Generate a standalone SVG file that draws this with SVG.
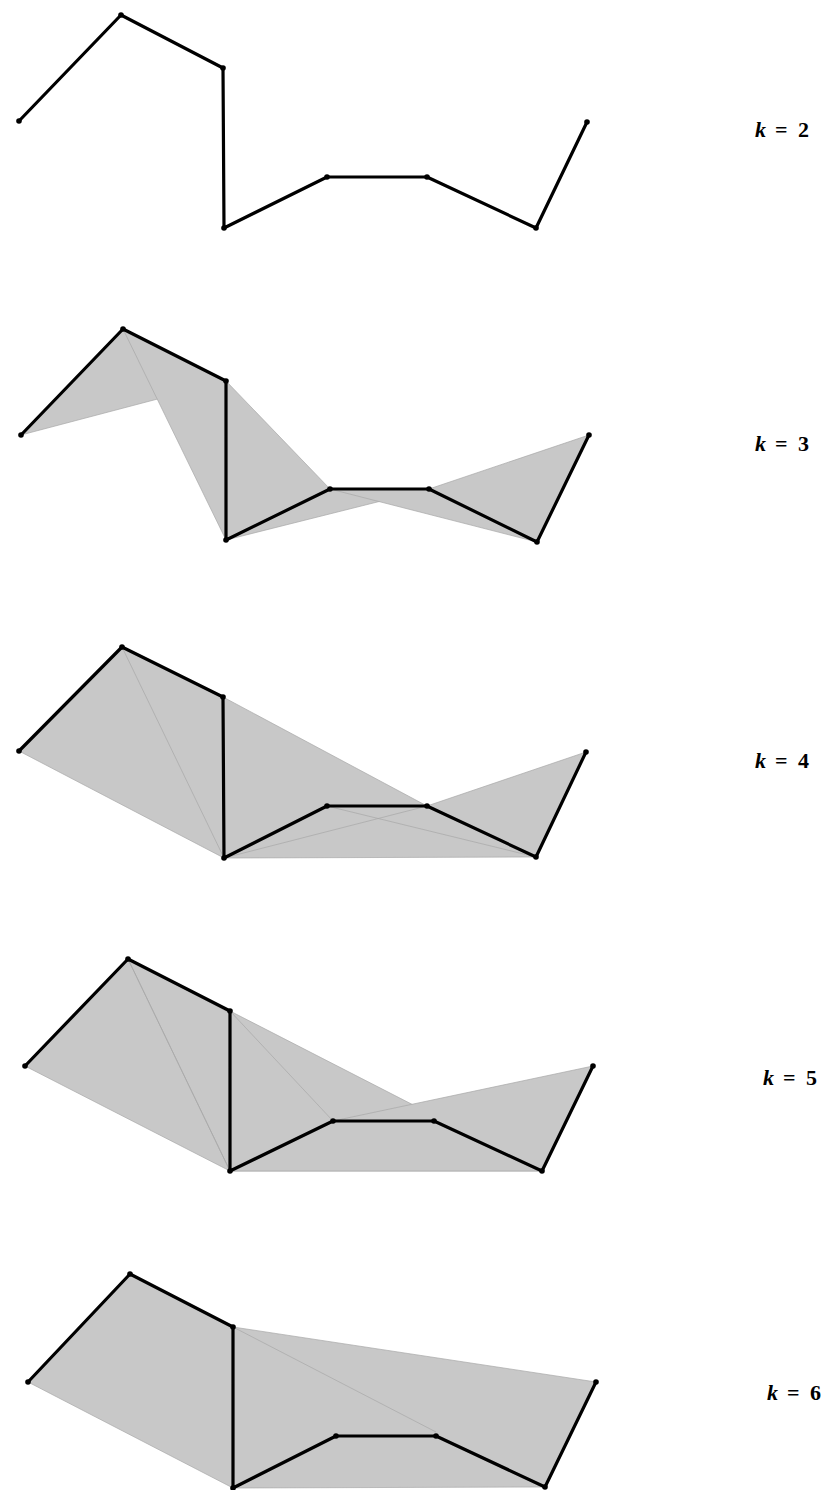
<svg xmlns="http://www.w3.org/2000/svg" width="834" height="1490" viewBox="0 0 834 1490">
<style>
.hull{fill:#c8c8c8;stroke:#a8a8a8;stroke-width:0.7;stroke-linejoin:miter}
.faint{fill:none;stroke:#a8a8a8;stroke-width:0.7}
.edge{fill:none;stroke:#000;stroke-width:3.2;stroke-linejoin:round;stroke-linecap:round}
.v{fill:#000}
.lbl{font-family:"Liberation Serif",serif;font-size:22px;font-weight:bold;fill:#000}
.k{font-style:italic}
</style>
<rect width="834" height="1490" fill="#fff"/>

<!-- k=2 -->
<g id="panel-k2">
  <g id="k2-connectors">
    <polyline class="edge" points="19,121 121,15 223,68 224,228 327,177 427,177 536,228 587,122"/>
  </g>
  <g id="k2-nodes">
    <g id="k2-v0"><circle class="v" cx="19" cy="121" r="2.8"/></g>
    <g id="k2-v1"><circle class="v" cx="121" cy="15" r="2.8"/></g>
    <g id="k2-v2"><circle class="v" cx="223" cy="68" r="2.8"/></g>
    <g id="k2-v3"><circle class="v" cx="224" cy="228" r="2.8"/></g>
    <g id="k2-v4"><circle class="v" cx="327" cy="177" r="2.8"/></g>
    <g id="k2-v5"><circle class="v" cx="427" cy="177" r="2.8"/></g>
    <g id="k2-v6"><circle class="v" cx="536" cy="228" r="2.8"/></g>
    <g id="k2-v7"><circle class="v" cx="587" cy="122" r="2.8"/></g>
  </g>
  <text class="lbl" y="137"><tspan class="k" x="755">k</tspan><tspan x="775">=</tspan><tspan x="798">2</tspan></text>
</g>

<!-- k=3 -->
<g id="panel-k3">
  <g id="k3-hulls">
    <polygon class="hull" points="21,435 123,329 226,381"/>
    <polygon class="hull" points="123,329 226,381 226,540"/>
    <polygon class="hull" points="226,381 226,540 330,489"/>
    <polygon class="hull" points="226,540 330,489 429,489"/>
    <polygon class="hull" points="330,489 429,489 537,542"/>
    <polygon class="hull" points="429,489 537,542 589,435"/>
  </g>
  <g id="k3-connectors">
    <polyline class="edge" points="21,435 123,329 226,381 226,540 330,489 429,489 537,542 589,435"/>
  </g>
  <g id="k3-nodes">
    <g id="k3-v0"><circle class="v" cx="21" cy="435" r="2.8"/></g>
    <g id="k3-v1"><circle class="v" cx="123" cy="329" r="2.8"/></g>
    <g id="k3-v2"><circle class="v" cx="226" cy="381" r="2.8"/></g>
    <g id="k3-v3"><circle class="v" cx="226" cy="540" r="2.8"/></g>
    <g id="k3-v4"><circle class="v" cx="330" cy="489" r="2.8"/></g>
    <g id="k3-v5"><circle class="v" cx="429" cy="489" r="2.8"/></g>
    <g id="k3-v6"><circle class="v" cx="537" cy="542" r="2.8"/></g>
    <g id="k3-v7"><circle class="v" cx="589" cy="435" r="2.8"/></g>
  </g>
  <text class="lbl" y="451"><tspan class="k" x="755">k</tspan><tspan x="775">=</tspan><tspan x="798">3</tspan></text>
</g>

<!-- k=4 -->
<g id="panel-k4">
  <g id="k4-hulls">
    <polygon class="hull" points="19,751 122,647 223,697 224,858"/>
    <polygon class="hull" points="122,647 223,697 327,806 224,858"/>
    <polygon class="hull" points="223,697 427,806 224,858"/>
    <polygon class="hull" points="224,858 327,806 427,806 536,857"/>
    <polygon class="hull" points="327,806 427,806 586,752 536,857"/>
    <line class="faint" x1="224" y1="858" x2="427" y2="806"/>
  </g>
  <g id="k4-connectors">
    <polyline class="edge" points="19,751 122,647 223,697 224,858 327,806 427,806 536,857 586,752"/>
  </g>
  <g id="k4-nodes">
    <g id="k4-v0"><circle class="v" cx="19" cy="751" r="2.8"/></g>
    <g id="k4-v1"><circle class="v" cx="122" cy="647" r="2.8"/></g>
    <g id="k4-v2"><circle class="v" cx="223" cy="697" r="2.8"/></g>
    <g id="k4-v3"><circle class="v" cx="224" cy="858" r="2.8"/></g>
    <g id="k4-v4"><circle class="v" cx="327" cy="806" r="2.8"/></g>
    <g id="k4-v5"><circle class="v" cx="427" cy="806" r="2.8"/></g>
    <g id="k4-v6"><circle class="v" cx="536" cy="857" r="2.8"/></g>
    <g id="k4-v7"><circle class="v" cx="586" cy="752" r="2.8"/></g>
  </g>
  <text class="lbl" y="768"><tspan class="k" x="755">k</tspan><tspan x="775">=</tspan><tspan x="798">4</tspan></text>
</g>

<!-- k=5 -->
<g id="panel-k5">
  <g id="k5-hulls">
    <polygon class="hull" points="25,1066 128,959 230,1011 333,1121 230,1171"/>
    <polygon class="hull" points="128,959 434,1121 230,1171"/>
    <polygon class="hull" points="230,1011 542,1171 230,1171"/>
    <polygon class="hull" points="230,1171 333,1121 593,1066 542,1171"/>
    <line class="faint" x1="230" y1="1011" x2="333" y2="1121"/>
    <line class="faint" x1="128" y1="959" x2="230" y2="1171"/>
  </g>
  <g id="k5-connectors">
    <polyline class="edge" points="25,1066 128,959 230,1011 230,1171 333,1121 434,1121 542,1171 593,1066"/>
  </g>
  <g id="k5-nodes">
    <g id="k5-v0"><circle class="v" cx="25" cy="1066" r="2.8"/></g>
    <g id="k5-v1"><circle class="v" cx="128" cy="959" r="2.8"/></g>
    <g id="k5-v2"><circle class="v" cx="230" cy="1011" r="2.8"/></g>
    <g id="k5-v3"><circle class="v" cx="230" cy="1171" r="2.8"/></g>
    <g id="k5-v4"><circle class="v" cx="333" cy="1121" r="2.8"/></g>
    <g id="k5-v5"><circle class="v" cx="434" cy="1121" r="2.8"/></g>
    <g id="k5-v6"><circle class="v" cx="542" cy="1171" r="2.8"/></g>
    <g id="k5-v7"><circle class="v" cx="593" cy="1066" r="2.8"/></g>
  </g>
  <text class="lbl" y="1085"><tspan class="k" x="763">k</tspan><tspan x="783">=</tspan><tspan x="806">5</tspan></text>
</g>

<!-- k=6 -->
<g id="panel-k6">
  <g id="k6-hulls">
    <polygon class="hull" points="28,1382 130,1274 233,1327 233,1488"/>
    <polygon class="hull" points="233,1327 596,1382 545,1487 233,1488"/>
    <line class="faint" x1="233" y1="1327" x2="436" y2="1432"/>
  </g>
  <g id="k6-connectors">
    <polyline class="edge" points="28,1382 130,1274 233,1327 233,1488 336,1436 436,1436 545,1487 596,1382"/>
  </g>
  <g id="k6-nodes">
    <g id="k6-v0"><circle class="v" cx="28" cy="1382" r="2.8"/></g>
    <g id="k6-v1"><circle class="v" cx="130" cy="1274" r="2.8"/></g>
    <g id="k6-v2"><circle class="v" cx="233" cy="1327" r="2.8"/></g>
    <g id="k6-v3"><circle class="v" cx="233" cy="1488" r="2.8"/></g>
    <g id="k6-v4"><circle class="v" cx="336" cy="1436" r="2.8"/></g>
    <g id="k6-v5"><circle class="v" cx="436" cy="1436" r="2.8"/></g>
    <g id="k6-v6"><circle class="v" cx="545" cy="1487" r="2.8"/></g>
    <g id="k6-v7"><circle class="v" cx="596" cy="1382" r="2.8"/></g>
  </g>
  <text class="lbl" y="1400"><tspan class="k" x="767">k</tspan><tspan x="787">=</tspan><tspan x="810">6</tspan></text>
</g>
</svg>
